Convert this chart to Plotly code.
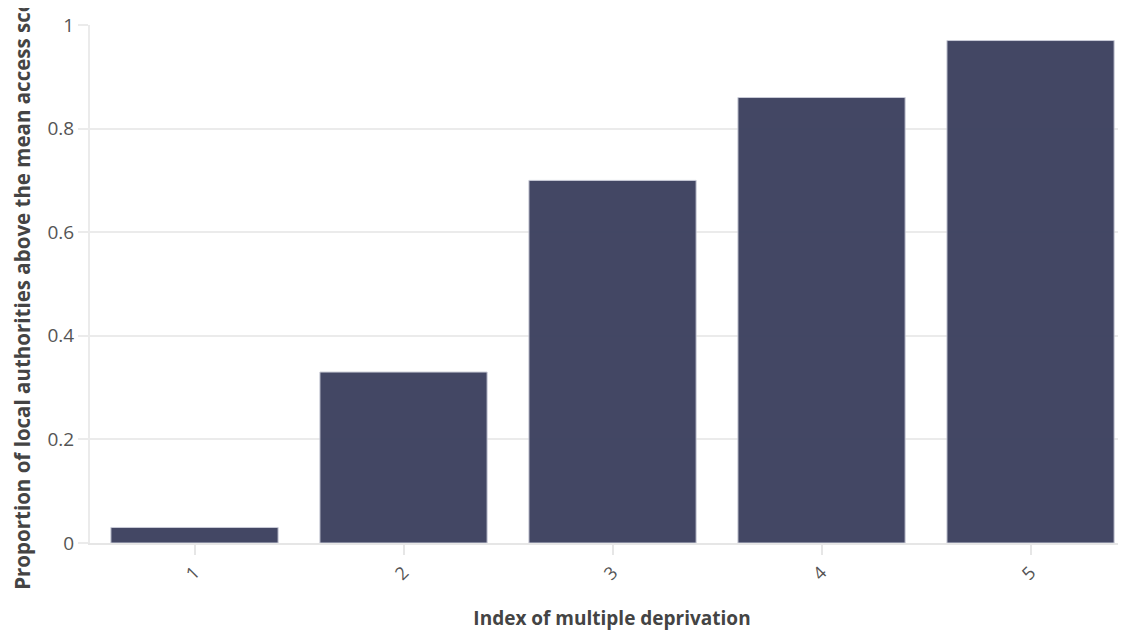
import plotly.graph_objects as go

categories = ["1", "2", "3", "4", "5"]
values = [0.03, 0.33, 0.70, 0.86, 0.97]
y_ticks = [0, 0.2, 0.4, 0.6, 0.8, 1]
y_tick_labels = ["0", "0.2", "0.4", "0.6", "0.8", "1"]

fig = go.Figure(go.Bar(
    x=categories, y=values,
    marker=dict(color="#3d4260", opacity=0.97, line=dict(color="#c8cad6", width=1)),
))

fig.update_layout(
    width=1126, height=633,
    margin=dict(l=82, r=0, t=17, b=98),
    paper_bgcolor="white", plot_bgcolor="white",
    bargap=0.2,
    font=dict(family="Open Sans, sans-serif", color="#555555"),
    showlegend=False,
)
fig.update_xaxes(
    type="category", range=[-0.5, 4.495],
    tickangle=-45, tickfont=dict(size=18, color="#555555"),
    ticks="outside", ticklen=10, tickcolor="#e6e6e6", tickwidth=2,
    showline=True, linecolor="#e6e6e6", linewidth=2,
    showgrid=False,
    title=dict(text="<b>Index of multiple deprivation</b>", font=dict(size=19, color="#444444"), standoff=28),
)
fig.update_yaxes(
    range=[0, 1], tickvals=y_ticks, ticktext=y_tick_labels,
    tickfont=dict(size=19, color="#555555"),
    ticks="outside", ticklen=10, tickcolor="#ebebeb", tickwidth=2,
    showgrid=True, gridcolor="#ebebeb", gridwidth=2,
    zeroline=False,
    showline=True, linecolor="#ebebeb", linewidth=2,
    title=dict(text="<b>Proportion of local authorities above the mean access score</b>", font=dict(size=20.5, color="#444444"), standoff=12),
)

fig.write_html("out.html")
